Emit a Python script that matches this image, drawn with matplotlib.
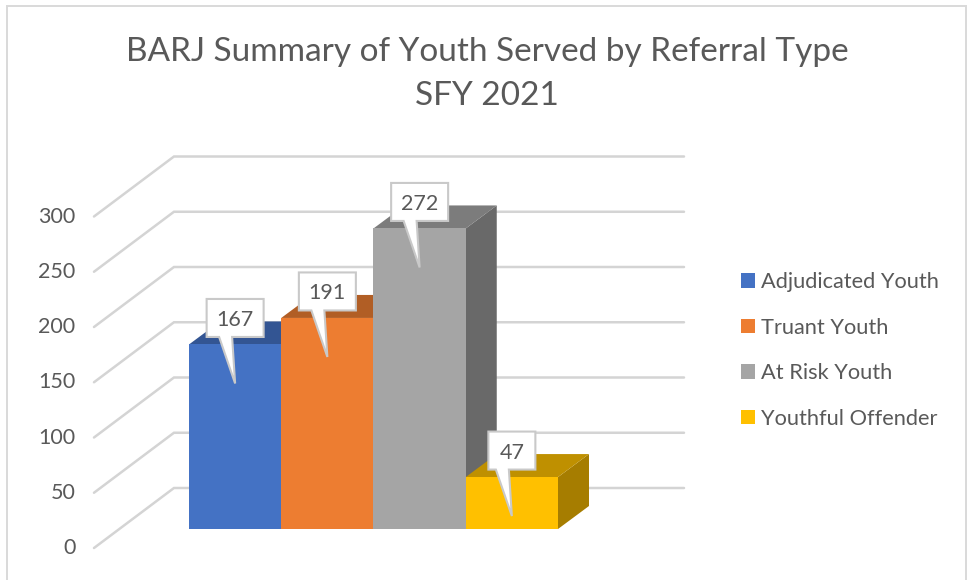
#!/usr/bin/env python3
# 3D-look column chart, faked on a flat axes with a fixed depth offset
import matplotlib
matplotlib.use('Agg')
import matplotlib.pyplot as plt
from matplotlib.patches import Polygon, Rectangle

categories = ['Adjudicated Youth', 'Truant Youth', 'At Risk Youth', 'Youthful Offender']
values = [167, 191, 272, 47]
axis_ticks = [0, 50, 100, 150, 200, 250, 300]
title_text = 'BARJ Summary of Youth Served by Referral Type\nSFY 2021'

front_col = ['#4472C4', '#ED7D31', '#A5A5A5', '#FFC000']
top_col = ['#335593', '#B15E25', '#7C7C7C', '#BF9000']
side_col = ['#2A4679', '#924D1E', '#696969', '#A67D00']
grid_col = '#D4D4D4'
text_col = '#595959'

W, H = 967, 580
plt.rcParams['font.family'] = ['Lato', 'DejaVu Sans']

# one data unit on each scale, in pixels
xpx = 92.25
ypx = 1.105
x0px, y0px = 189, 529

# bar depth and wall depth in data units
dx = 31 / xpx
dy = 23 / ypx
wall_left = -1.03
wall_y = -17.2
back_x = -0.163
back_y = 37.1
back_right = 5.366

fig = plt.figure(figsize=(W / 100, H / 100), dpi=100)
ax = fig.add_axes([0, 0, 1, 1])
ax.set_xlim(-x0px / xpx, (W - x0px) / xpx)
ax.set_ylim((y0px - H) / ypx, y0px / ypx)
ax.axis('off')

# outer chart frame, runs off the bottom of the picture
fig.add_artist(Rectangle((7 / W, -5 / H), 959 / W, (H - 0.5) / H, transform=fig.transFigure,
                         fill=False, ec='#D9D9D9', lw=1.4))

# gridlines on side wall and back wall
for t in axis_ticks:
    ax.plot([wall_left, back_x, back_right], [wall_y + t, back_y + t, back_y + t],
            color=grid_col, lw=1.8, solid_capstyle='round', solid_joinstyle='miter', zorder=1)

for t in axis_ticks:
    ax.text(wall_left - 0.20, wall_y + t, str(t), ha='right', va='center', fontsize=15.5, color=text_col)

# bars, back to front
for i in range(len(values)):
    v = values[i]
    ax.add_patch(Polygon([(i + 1, 0), (i + 1 + dx, dy), (i + 1 + dx, v + dy), (i + 1, v)],
                         fc=side_col[i], ec='none', zorder=2 + i))
    ax.add_patch(Polygon([(i, v), (i + dx, v + dy), (i + 1 + dx, v + dy), (i + 1, v)],
                         fc=top_col[i], ec='none', zorder=2 + i))
    ax.add_patch(Rectangle((i, 0), 1, v, fc=front_col[i], ec='none', zorder=2.5 + i))

# data label callouts: box over the bar centre with a tail pointing down into the bar
box_h = 38 / ypx
for i in range(len(values)):
    v = values[i]
    w = (57 if v >= 100 else 47) / xpx
    cx = i + 0.5
    bot = v + 7.5 / ypx
    tip_y = v - 39 / ypx
    xl, xr = cx - w / 2, cx + w / 2
    ytop = bot + box_h
    pts = [(xl, bot), (cx - 16 / xpx, bot), (cx, tip_y), (cx - 3 / xpx, bot),
           (xr, bot), (xr, ytop), (xl, ytop)]
    ax.add_patch(Polygon(pts, closed=True, fc='white', ec='#C9C9C9', lw=1.5, zorder=20))
    ax.text(cx, bot + box_h / 2 - 2 / ypx, str(v), ha='center', va='center', fontsize=15.5,
            color=text_col, zorder=21)

# legend
handles = [Rectangle((0, 0), 1, 1, fc=c, ec='none') for c in front_col]
ax.legend(handles, categories, loc='center left', bbox_to_anchor=(741 / W, 1 - 350.5 / H), frameon=False,
          fontsize=15.7, labelcolor=text_col, handlelength=0.66, handleheight=0.66, handletextpad=0.25,
          labelspacing=1.17, borderpad=0, borderaxespad=0, bbox_transform=fig.transFigure)

fig.text(487 / W, 1 - 74 / H, title_text, ha='center', va='center', fontsize=24, color=text_col,
         linespacing=1.6)

fig.savefig('out.png', dpi=100)
